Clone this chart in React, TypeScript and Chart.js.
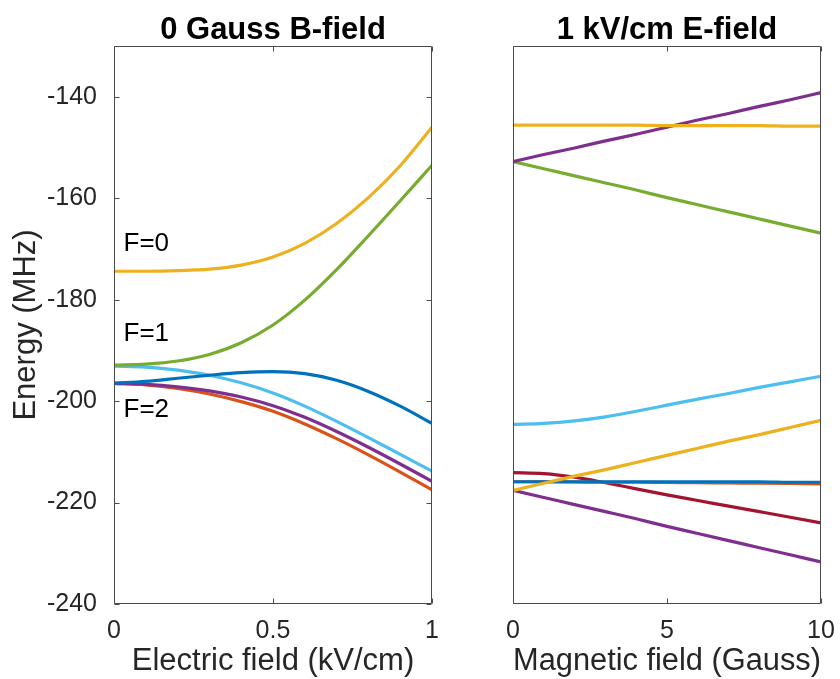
import React, { useEffect, useRef } from 'react';
import { Chart, registerables } from 'chart.js';

Chart.register(...registerables);

// ---------- data ----------
const eField = [0, 0.1, 0.2, 0.3, 0.4, 0.5, 0.6, 0.7, 0.8, 0.9, 1.0];
const bField = [0, 1, 2, 3, 4, 5, 6, 7, 8, 9, 10];

// Left panel: 0 Gauss B-field, energy (MHz) vs electric field (kV/cm)
const leftYellow = [-174.4, -174.4, -174.3, -174.0, -173.2, -171.6, -168.9, -165.0, -159.9, -153.6, -146.0];
const leftGreen = [-192.9, -192.7, -192.1, -190.8, -188.5, -185.0, -180.1, -174.1, -167.4, -160.5, -153.5];
const leftLightBlue = [-193.1, -193.3, -193.9, -194.9, -196.4, -198.4, -201.0, -204.0, -207.2, -210.5, -213.8];
const leftBlue = [-196.5, -196.1, -195.5, -194.9, -194.4, -194.2, -194.6, -195.9, -198.1, -201.0, -204.4];
const leftPurple = [-196.5, -196.7, -197.2, -198.0, -199.2, -200.9, -203.2, -206.0, -209.1, -212.4, -215.8];
const leftOrange = [-196.5, -196.8, -197.5, -198.6, -200.1, -202.0, -204.5, -207.4, -210.6, -214.0, -217.5];

// Right panel: 1 kV/cm E-field, energy (MHz) vs magnetic field (Gauss)
const rightYellowTop = [-145.6, -145.6, -145.6, -145.6, -145.6, -145.7, -145.7, -145.7, -145.7, -145.8, -145.8];
const rightPurpleTop = [-152.8, -151.4, -150.1, -148.7, -147.4, -146.0, -144.6, -143.3, -141.9, -140.6, -139.2];
const rightGreen = [-152.8, -154.2, -155.6, -157.0, -158.4, -159.9, -161.3, -162.7, -164.1, -165.5, -166.9];
const rightLightBlue = [-204.6, -204.4, -203.9, -203.1, -202.0, -200.8, -199.6, -198.5, -197.3, -196.2, -195.1];
const rightYellowLow = [-217.6, -216.2, -214.8, -213.5, -212.1, -210.7, -209.3, -207.9, -206.6, -205.2, -203.8];
const rightDarkRed = [-214.1, -214.3, -215.0, -216.1, -217.3, -218.5, -219.6, -220.7, -221.8, -222.9, -224.0];
const rightBlue = [-215.9, -215.9, -215.9, -215.9, -215.9, -215.9, -215.9, -215.9, -215.9, -216.0, -216.0];
const rightOrange = [-215.9, -215.9, -215.95, -216.0, -216.0, -216.05, -216.1, -216.15, -216.2, -216.25, -216.3];
const rightPurpleLow = [-217.6, -219.0, -220.4, -221.8, -223.2, -224.7, -226.1, -227.5, -228.9, -230.3, -231.7];

const leftXTicks = [0, 0.5, 1];
const rightXTicks = [0, 5, 10];
const yTicks = [-240, -220, -200, -180, -160, -140];
const yMin = -240;
const yMax = -130;

const levelLabels = [
  { text: 'F=0', e: 0.03, energy: -168.9 },
  { text: 'F=1', e: 0.03, energy: -186.8 },
  { text: 'F=2', e: 0.03, energy: -201.8 },
];

// ---------- styles ----------
const C = {
  blue: '#0072BD',
  orange: '#D95319',
  yellow: '#EDB120',
  purple: '#7E2F8E',
  green: '#77AC30',
  lightBlue: '#4DBEEE',
  darkRed: '#A2142F',
};
const SANS = '"Liberation Sans", Arial, Helvetica, sans-serif';
const AXIS_COLOR = '#262626';

const series = (xs: number[], ys: number[], color: string) => ({
  data: xs.map((x, i) => ({ x, y: ys[i] })),
  borderColor: color,
  backgroundColor: color,
  borderWidth: 3.2,
  pointRadius: 0,
  fill: false,
  cubicInterpolationMode: 'monotone' as const,
});

const boxPlugin = {
  id: 'matlabBox',
  afterDatasetsDraw(chart: any, _args: any, opts: any) {
    const { ctx, chartArea: a, scales } = chart;
    ctx.save();
    ctx.strokeStyle = '#4a4a4a';
    ctx.lineWidth = 1;
    const l = Math.round(a.left) + 0.5;
    const r = Math.round(a.right) - 0.5;
    const t = Math.round(a.top) + 0.5;
    const b = Math.round(a.bottom) - 0.5;
    ctx.beginPath();
    ctx.rect(l, t, r - l, b - t);
    ctx.stroke();
    const L = 5;
    ctx.beginPath();
    scales.x.ticks.forEach((tk: any) => {
      const px = Math.round(scales.x.getPixelForValue(tk.value)) + 0.5;
      ctx.moveTo(px, b);
      ctx.lineTo(px, b - L);
      ctx.moveTo(px, t);
      ctx.lineTo(px, t + L);
    });
    if (opts && opts.yTicks) {
      scales.y.ticks.forEach((tk: any) => {
        const py = Math.round(scales.y.getPixelForValue(tk.value)) + 0.5;
        ctx.moveTo(l, py);
        ctx.lineTo(l + L, py);
        ctx.moveTo(r, py);
        ctx.lineTo(r - L, py);
      });
    }
    ctx.stroke();
    ctx.restore();
  },
};

const labelPlugin = {
  id: 'levelLabels',
  afterDatasetsDraw(chart: any, _args: any, opts: any) {
    if (!opts || !opts.items) return;
    const { ctx, scales } = chart;
    ctx.save();
    ctx.fillStyle = '#000';
    ctx.font = `26px ${SANS}`;
    ctx.textAlign = 'left';
    ctx.textBaseline = 'middle';
    opts.items.forEach((it: any) => {
      ctx.fillText(it.text, scales.x.getPixelForValue(it.e), scales.y.getPixelForValue(it.energy));
    });
    ctx.restore();
  },
};

const titleOpts = (text: string) => ({
  display: true,
  text,
  fullSize: false,
  color: '#000',
  font: { family: SANS, size: 31, weight: 'bold' as const, lineHeight: '32px' },
  padding: { top: 14, bottom: 0 },
});

const TICK_FONT = { family: SANS, size: 25 };
const AXIS_TITLE_FONT = { family: SANS, size: 31, lineHeight: 1 };

const xScale = (min: number, max: number, ticks: number[], title: string) => ({
  type: 'linear' as const,
  min,
  max,
  grid: { display: false },
  border: { display: false },
  afterBuildTicks: (s: any) => {
    s.ticks = ticks.map((v) => ({ value: v }));
  },
  afterFit: (s: any) => {
    s.height = 75;
  },
  ticks: {
    color: AXIS_COLOR,
    padding: 4,
    maxRotation: 0,
    autoSkip: false,
    font: TICK_FONT,
    callback: (v: any) => String(v),
  },
  title: {
    display: true,
    text: title,
    color: AXIS_COLOR,
    font: AXIS_TITLE_FONT,
    padding: { top: 0, bottom: 2 },
  },
});

export default function App() {
  const leftRef = useRef<HTMLCanvasElement>(null);
  const rightRef = useRef<HTMLCanvasElement>(null);

  useEffect(() => {
    const left = new Chart(leftRef.current as HTMLCanvasElement, {
      type: 'line',
      data: {
        datasets: [
          series(eField, leftYellow, C.yellow),
          series(eField, leftGreen, C.green),
          series(eField, leftBlue, C.blue),
          series(eField, leftLightBlue, C.lightBlue),
          series(eField, leftPurple, C.purple),
          series(eField, leftOrange, C.orange),
        ],
      },
      options: {
        animation: false,
        responsive: false,
        layout: { padding: { left: 0, right: 28, top: 0, bottom: 0 } },
        plugins: {
          legend: { display: false },
          tooltip: { enabled: false },
          title: titleOpts('0 Gauss B-field'),
          matlabBox: { yTicks: true },
          levelLabels: { items: levelLabels },
        } as any,
        scales: {
          x: xScale(0, 1, leftXTicks, 'Electric field (kV/cm)'),
          y: {
            type: 'linear',
            min: yMin,
            max: yMax,
            grid: { display: false },
            border: { display: false },
            afterBuildTicks: (s: any) => {
              s.ticks = yTicks.map((v) => ({ value: v }));
            },
            afterFit: (s: any) => {
              s.width = 114;
            },
            ticks: {
              color: AXIS_COLOR,
              padding: 9,
              font: TICK_FONT,
              callback: (v: any) => String(v),
            },
            title: {
              display: true,
              text: 'Energy (MHz)',
              color: AXIS_COLOR,
              font: AXIS_TITLE_FONT,
              padding: { top: 11, bottom: 0 },
            },
          },
        },
      },
      plugins: [boxPlugin, labelPlugin],
    });

    const right = new Chart(rightRef.current as HTMLCanvasElement, {
      type: 'line',
      data: {
        datasets: [
          series(bField, rightYellowTop, C.yellow),
          series(bField, rightPurpleTop, C.purple),
          series(bField, rightGreen, C.green),
          series(bField, rightLightBlue, C.lightBlue),
          series(bField, rightYellowLow, C.yellow),
          series(bField, rightBlue, C.blue),
          series(bField, rightOrange, C.orange),
          series(bField, rightDarkRed, C.darkRed),
          series(bField, rightPurpleLow, C.purple),
        ],
      },
      options: {
        animation: false,
        responsive: false,
        layout: { padding: { left: 53, right: 19, top: 0, bottom: 0 } },
        plugins: {
          legend: { display: false },
          tooltip: { enabled: false },
          title: titleOpts('1 kV/cm E-field'),
          matlabBox: { yTicks: false },
        } as any,
        scales: {
          x: xScale(0, 10, rightXTicks, 'Magnetic field (Gauss)'),
          y: {
            type: 'linear',
            min: yMin,
            max: yMax,
            display: false,
          },
        },
      },
      plugins: [boxPlugin],
    });

    return () => {
      left.destroy();
      right.destroy();
    };
  }, []);

  return (
    <div style={{ position: 'absolute', left: 0, top: 0, width: 840, height: 679, background: '#fff' }}>
      <canvas ref={leftRef} width={460} height={679} style={{ position: 'absolute', left: 0, top: 0 }} />
      <canvas ref={rightRef} width={380} height={679} style={{ position: 'absolute', left: 460, top: 0 }} />
    </div>
  );
}
